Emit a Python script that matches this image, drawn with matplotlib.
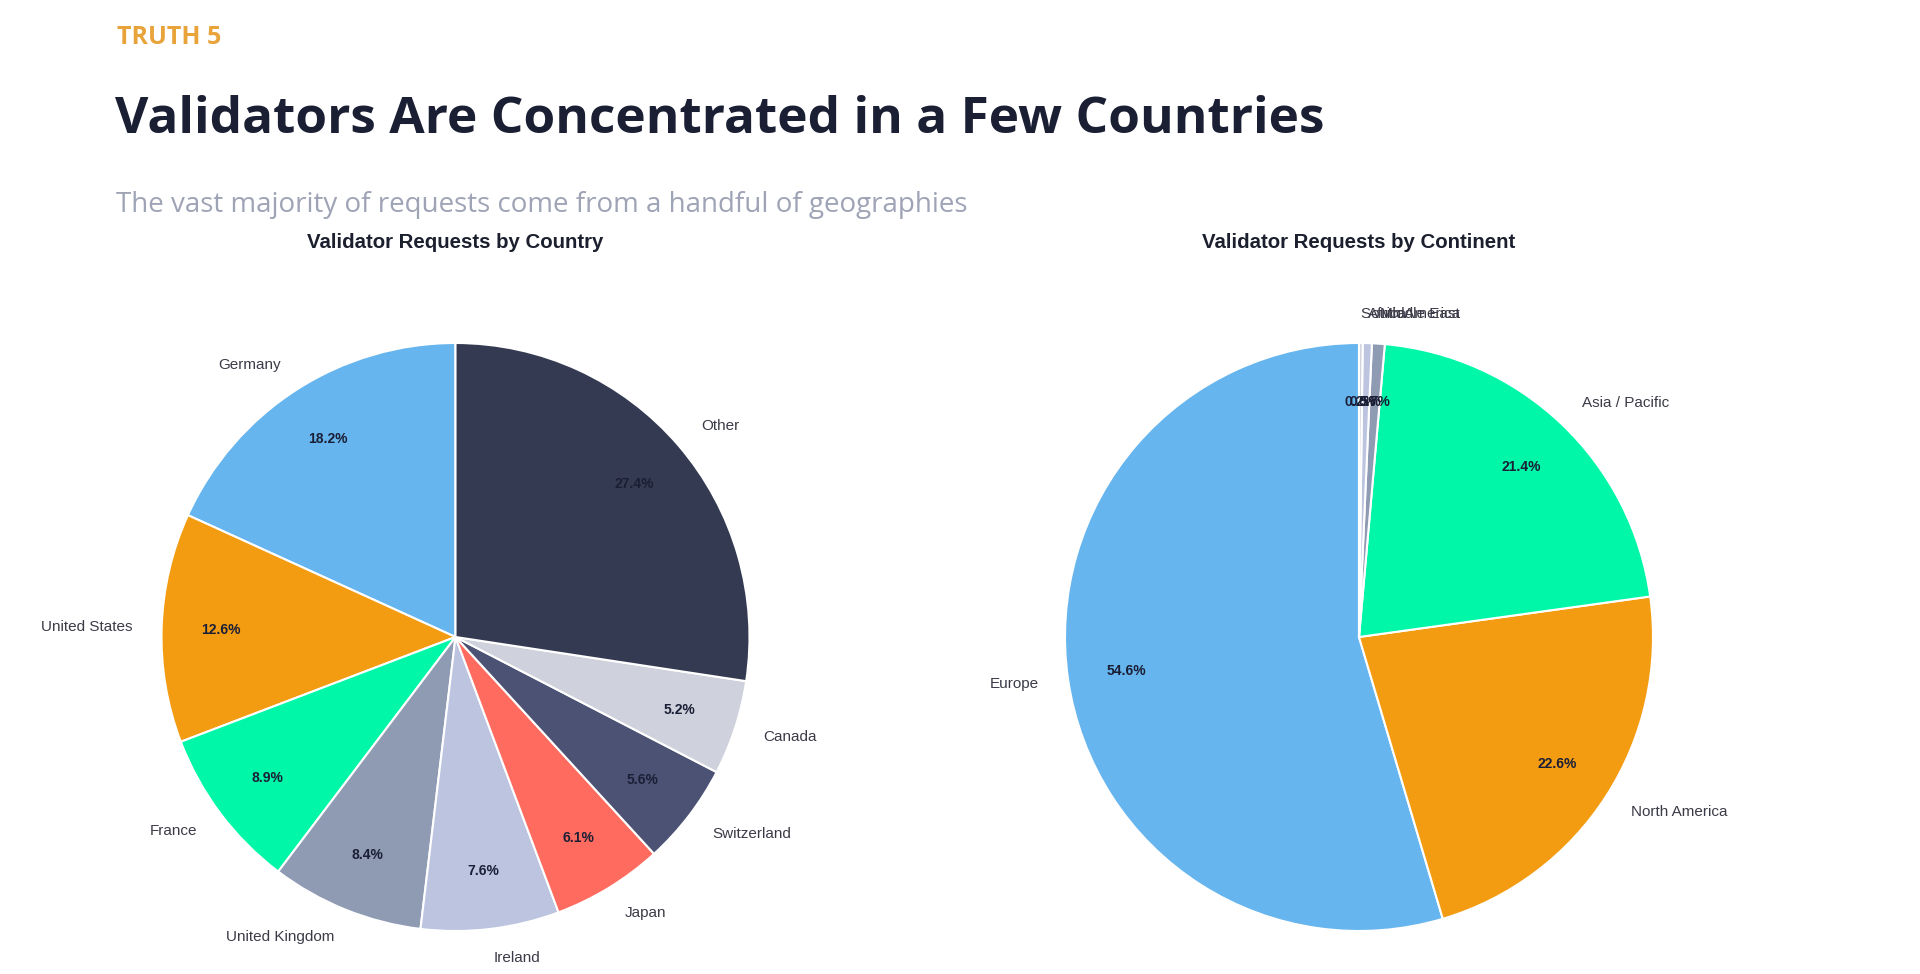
import matplotlib
matplotlib.use("Agg")
import matplotlib.pyplot as plt

# country breakdown
countries = ["Germany", "United States", "France", "United Kingdom", "Ireland",
             "Japan", "Switzerland", "Canada", "Other"]
country_share = [18.2, 12.6, 8.9, 8.4, 7.6, 6.1, 5.6, 5.2, 27.4]
country_colors = ["#66b5ee", "#f39c12", "#00f7a8", "#8f9ab3", "#bcc4e0",
                  "#ff6b5e", "#4b5274", "#cfd2dc", "#343a51"]

# continent breakdown
continents = ["Europe", "North America", "Asia / Pacific", "Middle East",
              "Africa", "South America"]
continent_share = [54.6, 22.6, 21.4, 0.7, 0.5, 0.2]
continent_colors = ["#66b5ee", "#f39c12", "#00f7a8", "#8f9ab3", "#bcc4e0", "#cfd2dc"]

fig = plt.figure(figsize=(19.2, 9.74), dpi=100)
fig.patch.set_facecolor("white")

fig.text(117/1920, 1-38/974, "TRUTH 5", family="Open Sans", weight="bold",
         fontsize=18, color="#e8a33a", va="center", ha="left")
fig.text(115/1920, 1-133/974, "Validators Are Concentrated in a Few Countries",
         family="Open Sans", weight="bold", fontsize=37, color="#1b1f33",
         va="baseline", ha="left")
fig.text(116/1920, 1-205/974,
         "The vast majority of requests come from a handful of geographies",
         family="Open Sans", fontsize=20, color="#9ea3b6", va="center", ha="left")

S = 735  # axes side in px -> pie radius 294
def pie_axes(cx, cy):
    return fig.add_axes([(cx - S/2)/1920, (974 - cy - S/2)/974, S/1920, S/974])

def draw(ax, values, labels, colors):
    wedges, texts, autotexts = ax.pie(
        values, labels=labels, colors=colors, startangle=90,
        autopct="%1.1f%%", pctdistance=0.8, labeldistance=1.1,
        wedgeprops=dict(edgecolor="white", linewidth=1.5),
        textprops=dict(family="Liberation Sans", fontsize=11, color="#3a3b47"))
    for t in autotexts:
        t.set_fontsize(10)
        t.set_fontweight("bold")
        t.set_color("#1b1f36")
    ax.set_aspect("equal")

ax1 = pie_axes(455.5, 637)
draw(ax1, country_share, countries, country_colors)
ax2 = pie_axes(1359, 637)
draw(ax2, continent_share, continents, continent_colors)

fig.text(455.5/1920, 1-243/974, "Validator Requests by Country",
         family="Liberation Sans", weight="bold", fontsize=14.7, color="#1b1f2e",
         ha="center", va="center")
fig.text(1359/1920, 1-243/974, "Validator Requests by Continent",
         family="Liberation Sans", weight="bold", fontsize=14.7, color="#1b1f2e",
         ha="center", va="center")

fig.savefig("out.png", dpi=100, facecolor="white")
